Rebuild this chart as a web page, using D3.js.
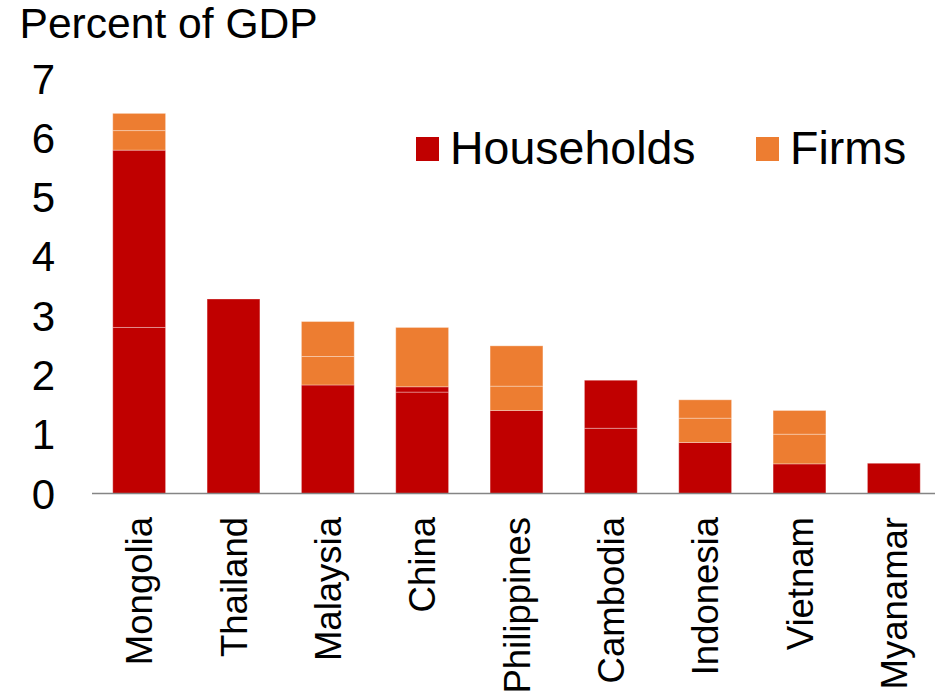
<!DOCTYPE html>
<html>
<head>
<meta charset="utf-8">
<script src="https://cdn.jsdelivr.net/npm/d3@7"></script>
<style>
  html, body { margin: 0; padding: 0; background: #fff; }
  svg { display: block; font-family: "Liberation Sans", Arial, sans-serif; }
</style>
</head>
<body>
<svg id="chart" width="935" height="695"></svg>
<script>
// Countries along the x axis
const countries = ["Mongolia", "Thailand", "Malaysia", "China", "Philippines",
                   "Cambodia", "Indonesia", "Vietnam", "Myanamar"];

// Each series is stacked in two segments (percent of GDP)
const householdsA = [2.80, 3.28, 1.83, 1.71, 1.40, 1.10, 0.86, 0.50, 0.51];
const householdsB = [2.99, 0.00, 0.00, 0.09, 0.00, 0.81, 0.00, 0.00, 0.00];
const firmsA      = [0.33, 0.00, 0.48, 1.00, 0.41, 0.00, 0.41, 0.50, 0.00];
const firmsB      = [0.29, 0.00, 0.59, 0.00, 0.68, 0.00, 0.31, 0.40, 0.00];

const yTicks = [0, 1, 2, 3, 4, 5, 6, 7];
const legendItems = ["Households", "Firms"];

const colors = { Households: "#C00000", Firms: "#ED7D31" };
const segments = [
  { key: "hA", values: householdsA, group: "Households" },
  { key: "hB", values: householdsB, group: "Households" },
  { key: "fA", values: firmsA, group: "Firms" },
  { key: "fB", values: firmsB, group: "Firms" }
];

const rows = countries.map((c, i) => {
  const r = { country: c };
  segments.forEach(s => { r[s.key] = s.values[i]; });
  return r;
});

const svg = d3.select("#chart");

const x = d3.scaleBand()
  .domain(countries)
  .range([92, 941])
  .paddingInner(0.44)
  .paddingOuter(0.22);

const y = d3.scaleLinear()
  .domain([0, 7])
  .range([493.5, 78.4]);

const stack = d3.stack().keys(segments.map(s => s.key));
const layers = stack(rows);

// Stacked bars
svg.append("g")
  .selectAll("g")
  .data(layers)
  .join("g")
  .attr("fill", (d, i) => colors[segments[i].group])
  .selectAll("rect")
  .data(d => d.filter(p => p[1] - p[0] > 0))
  .join("rect")
  .attr("x", d => x(d.data.country))
  .attr("width", x.bandwidth())
  .attr("y", d => y(d[1]))
  .attr("height", d => y(d[0]) - y(d[1]))
  .attr("stroke", "rgba(255,255,255,0.32)")
  .attr("stroke-width", 1);

// Baseline
svg.append("line")
  .attr("x1", 92).attr("x2", 935)
  .attr("y1", y(0)).attr("y2", y(0))
  .attr("stroke", "#858585")
  .attr("stroke-width", 1.6);

// Y tick labels
svg.append("g")
  .selectAll("text")
  .data(yTicks)
  .join("text")
  .attr("x", 55)
  .attr("y", d => y(d))
  .attr("dy", "0.36em")
  .attr("text-anchor", "end")
  .attr("font-size", 42)
  .attr("fill", "#000")
  .text(d => d);

// X labels, rotated
svg.append("g")
  .selectAll("text")
  .data(countries)
  .join("text")
  .attr("transform", d => `translate(${x(d) + x.bandwidth() / 2},517) rotate(-90)`)
  .attr("dy", "0.36em")
  .attr("text-anchor", "end")
  .attr("font-size", 36.5)
  .attr("fill", "#000")
  .text(d => d);

// Axis title
svg.append("text")
  .attr("x", 19.5)
  .attr("y", 37.5)
  .attr("font-size", 42.6)
  .attr("fill", "#000")
  .text("Percent of GDP");

// Legend
const legendX = [416, 756];
const lg = svg.append("g")
  .selectAll("g")
  .data(legendItems)
  .join("g")
  .attr("transform", (d, i) => `translate(${legendX[i]},137)`);
lg.append("rect")
  .attr("width", 23).attr("height", 24)
  .attr("fill", d => colors[d]);
lg.append("text")
  .attr("x", 34)
  .attr("y", 26.5)
  .attr("font-size", 46.5)
  .attr("fill", "#000")
  .text(d => d);
</script>
</body>
</html>
